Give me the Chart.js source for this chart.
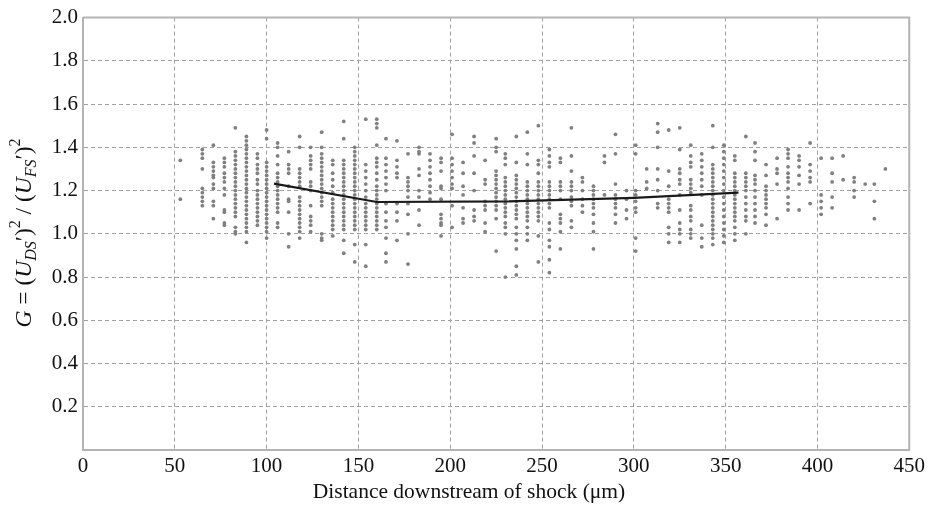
<!DOCTYPE html>
<html>
<head>
<meta charset="utf-8">
<script src="https://cdn.jsdelivr.net/npm/chart.js@4.4.1/dist/chart.umd.min.js"></script>
<style>
  html, body { margin: 0; padding: 0; background: #fff; }
</style>
</head>
<body>
<canvas id="c" width="929" height="507"></canvas>
<script>
const xTicks = [0, 50, 100, 150, 200, 250, 300, 350, 400, 450];
const yTicks = [0, 0.2, 0.4, 0.6, 0.8, 1.0, 1.2, 1.4, 1.6, 1.8, 2.0];
const xTitle = "Distance downstream of shock (\u03bcm)";

// measured columns of G values (x in µm)
const columnX = [53, 65, 71, 77, 83, 89, 95, 100, 106, 112, 118, 124, 130, 136, 142, 148, 154, 160,
  165, 171, 177, 183, 189, 195, 201, 207, 213, 219, 225, 230, 236, 242, 248, 254, 260, 266, 272,
  278, 284, 290, 296, 301, 307, 313, 319, 325, 331, 337, 343, 349, 355, 361, 366, 372, 378, 384,
  390, 396, 402, 408, 414, 420, 426, 431, 437];
const columnY = [
  [1.34, 1.16],
  [1.39, 1.37, 1.35, 1.30, 1.21, 1.19, 1.17, 1.15, 1.13],
  [1.41, 1.33, 1.31, 1.29, 1.27, 1.26, 1.23, 1.21, 1.15, 1.13, 1.07],
  [1.35, 1.33, 1.31, 1.28, 1.26, 1.24, 1.21, 1.18, 1.11, 1.10, 1.05, 1.04],
  [1.49, 1.38, 1.36, 1.34, 1.32, 1.30, 1.28, 1.26, 1.24, 1.22, 1.20, 1.18, 1.16, 1.14, 1.12, 1.10, 1.08, 1.03, 1.01, 1.00],
  [1.45, 1.43, 1.41, 1.39, 1.37, 1.35, 1.33, 1.31, 1.29, 1.27, 1.25, 1.23, 1.21, 1.19, 1.17, 1.15, 1.13, 1.11, 1.09, 1.07, 1.05, 1.03, 1.01, 0.96],
  [1.37, 1.35, 1.32, 1.30, 1.28, 1.25, 1.23, 1.20, 1.18, 1.16, 1.14, 1.12, 1.10, 1.08, 1.06, 1.04],
  [1.48, 1.44, 1.33, 1.31, 1.29, 1.27, 1.25, 1.23, 1.21, 1.19, 1.17, 1.15, 1.13, 1.11, 1.09, 1.07, 1.05, 1.03, 1.01, 0.98],
  [1.42, 1.40, 1.36, 1.32, 1.28, 1.26, 1.24, 1.22, 1.20, 1.18, 1.16, 1.14, 1.12, 1.10, 1.05, 1.03],
  [1.38, 1.32, 1.30, 1.28, 1.22, 1.16, 1.15, 1.10, 1.00, 0.94],
  [1.45, 1.40, 1.30, 1.28, 1.26, 1.24, 1.22, 1.17, 1.15, 1.13, 1.11, 1.09, 1.07, 1.05, 1.03, 1.01, 0.98],
  [1.40, 1.36, 1.34, 1.32, 1.30, 1.24, 1.22, 1.20, 1.13, 1.08, 1.06, 1.04, 1.01],
  [1.47, 1.40, 1.37, 1.35, 1.33, 1.31, 1.29, 1.27, 1.25, 1.23, 1.21, 1.19, 1.17, 1.15, 1.13, 1.00, 0.98, 0.97],
  [1.34, 1.32, 1.28, 1.25, 1.22, 1.19, 1.16, 1.14, 1.12, 1.10, 1.08, 1.06, 1.04, 1.02, 0.99],
  [1.52, 1.44, 1.34, 1.32, 1.30, 1.28, 1.26, 1.24, 1.22, 1.20, 1.18, 1.16, 1.14, 1.12, 1.10, 1.08, 1.06, 1.04, 1.02, 0.97, 0.91],
  [1.40, 1.38, 1.36, 1.34, 1.32, 1.30, 1.28, 1.26, 1.24, 1.22, 1.20, 1.18, 1.16, 1.14, 1.12, 1.10, 1.08, 1.06, 1.04, 1.02, 0.95, 0.87],
  [1.53, 1.32, 1.29, 1.26, 1.23, 1.20, 1.17, 1.14, 1.12, 1.10, 1.08, 1.06, 1.04, 1.02, 0.95, 0.85],
  [1.53, 1.51, 1.49, 1.41, 1.35, 1.33, 1.31, 1.28, 1.25, 1.22, 1.20, 1.18, 1.16, 1.14, 1.12, 1.10, 1.08, 1.06, 1.04, 1.02],
  [1.44, 1.35, 1.32, 1.29, 1.26, 1.23, 1.20, 1.14, 1.10, 1.06, 1.03, 0.98, 0.91, 0.87],
  [1.43, 1.34, 1.31, 1.28, 1.26, 1.14, 1.10, 1.06, 0.97],
  [1.37, 1.26, 1.24, 1.22, 1.20, 1.17, 1.14, 1.09, 1.00, 0.86],
  [1.40, 1.38, 1.37, 1.30, 1.27, 1.20, 1.17, 1.11, 1.04],
  [1.37, 1.34, 1.31, 1.28, 1.25, 1.22, 1.19, 1.16],
  [1.35, 1.33, 1.29, 1.22, 1.21, 1.16, 1.09, 1.07, 1.05, 1.04, 0.99],
  [1.46, 1.35, 1.32, 1.29, 1.26, 1.23, 1.21, 1.13, 1.03],
  [1.33, 1.28, 1.22, 1.18, 1.12, 1.07, 1.05],
  [1.45, 1.42, 1.36, 1.28, 1.20, 1.11, 1.08, 1.06],
  [1.34, 1.25, 1.23, 1.15, 1.13, 1.11, 1.05, 1.01],
  [1.44, 1.40, 1.38, 1.29, 1.27, 1.25, 1.23, 1.21, 1.19, 1.17, 1.15, 1.13, 1.11, 1.07, 0.92],
  [1.37, 1.35, 1.32, 1.26, 1.24, 1.22, 1.20, 1.18, 1.16, 1.14, 1.12, 1.10, 1.08, 1.05, 1.03, 1.00, 0.80],
  [1.45, 1.33, 1.27, 1.25, 1.23, 1.21, 1.19, 1.17, 1.15, 1.13, 1.11, 1.09, 1.07, 1.03, 1.00, 0.97, 0.93, 0.85, 0.81],
  [1.47, 1.37, 1.32, 1.24, 1.22, 1.20, 1.18, 1.16, 1.14, 1.12, 1.10, 1.08, 1.06, 1.03, 1.00, 0.97],
  [1.50, 1.34, 1.32, 1.28, 1.24, 1.22, 1.20, 1.18, 1.16, 1.14, 1.12, 1.10, 1.08, 1.06, 0.99, 0.87],
  [1.39, 1.36, 1.33, 1.31, 1.24, 1.22, 1.20, 1.18, 1.16, 1.14, 1.12, 1.05, 1.02, 0.97, 0.94, 0.88, 0.82],
  [1.35, 1.33, 1.24, 1.22, 1.20, 1.16, 1.09, 1.07, 1.05, 1.01, 0.93],
  [1.49, 1.36, 1.29, 1.24, 1.22, 1.20, 1.17, 1.15, 1.13, 1.06, 1.03],
  [1.26, 1.24, 1.20, 1.16, 1.13, 1.10],
  [1.22, 1.20, 1.18, 1.16, 1.14, 1.12, 1.09, 1.05, 1.01, 0.93],
  [1.36, 1.33, 1.18],
  [1.46, 1.37, 1.23, 1.18, 1.16, 1.14, 1.12, 1.09, 1.05],
  [1.20, 1.16, 1.11, 1.07],
  [1.41, 1.37, 1.20, 1.18, 1.15, 1.12, 1.10, 0.98, 0.92],
  [1.30, 1.24, 1.21],
  [1.51, 1.47, 1.40, 1.30, 1.25, 1.20, 1.14, 1.12],
  [1.48, 1.29, 1.22, 1.16, 1.14, 1.12, 1.10, 1.03, 1.00, 0.96],
  [1.49, 1.39, 1.30, 1.28, 1.25, 1.23, 1.18, 1.11, 1.05, 1.02, 1.00, 0.96],
  [1.41, 1.36, 1.33, 1.31, 1.25, 1.23, 1.21, 1.19, 1.13, 1.11, 1.08, 1.06, 1.02, 1.00, 0.98],
  [1.37, 1.34, 1.31, 1.28, 1.25, 1.22, 1.18, 1.04, 0.98, 0.94],
  [1.50, 1.40, 1.32, 1.30, 1.28, 1.26, 1.24, 1.22, 1.20, 1.18, 1.16, 1.14, 1.12, 1.10, 1.08, 1.06, 1.04, 1.02, 1.00, 0.98, 0.95],
  [1.41, 1.38, 1.35, 1.32, 1.29, 1.26, 1.23, 1.20, 1.17, 1.14, 1.11, 1.08, 1.05, 1.02, 0.99, 0.96],
  [1.36, 1.34, 1.28, 1.26, 1.24, 1.22, 1.20, 1.18, 1.16, 1.14, 1.12, 1.10, 1.08, 1.06, 1.03, 1.00, 0.97],
  [1.45, 1.28, 1.26, 1.24, 1.22, 1.20, 1.17, 1.14, 1.11, 1.08, 1.06, 1.00],
  [1.42, 1.38, 1.34, 1.27, 1.25, 1.23, 1.20, 1.17, 1.14, 1.11, 1.08, 1.05],
  [1.32, 1.27, 1.22, 1.20, 1.18, 1.16, 1.14, 1.12, 1.09, 1.04],
  [1.35, 1.30, 1.28, 1.23, 1.07],
  [1.39, 1.37, 1.35, 1.31, 1.28, 1.26, 1.24, 1.21, 1.17, 1.14, 1.11],
  [1.36, 1.34, 1.31, 1.27, 1.23, 1.11],
  [1.42, 1.32, 1.29, 1.26, 1.24, 1.14],
  [1.35, 1.18, 1.15, 1.12, 1.09],
  [1.35, 1.28, 1.24, 1.17, 1.12],
  [1.36, 1.25],
  [1.26, 1.24, 1.20, 1.17],
  [1.23],
  [1.23, 1.15, 1.07],
  [1.30]
];

// fitted trend line
const fitX = [104, 160, 232, 300, 357];
const fitY = [1.232, 1.147, 1.150, 1.166, 1.190];

const points = [];
columnX.forEach((x, i) => {
  columnY[i].forEach((y) => points.push({ x: x, y: y }));
});
const fitLine = fitX.map((x, i) => ({ x: x, y: fitY[i] }));

const serif = '"Liberation Serif", "Times New Roman", serif';

// axis titles: y one needs sub/superscripts, so both are drawn here
const titlesPlugin = {
  id: "titles",
  afterDraw(chart) {
    const ctx = chart.ctx;
    ctx.save();
    ctx.fillStyle = "#111";
    ctx.font = "21.5px " + serif;
    ctx.textAlign = "center";
    ctx.textBaseline = "middle";
    ctx.fillText(xTitle, 469, 492);
    ctx.restore();

    const parts = [
      { t: "G", it: true },
      { t: " = (", it: false },
      { t: "U", it: true },
      { t: "DS", it: true, k: "sub" },
      { t: "\u2032)", it: false },
      { t: "2", it: false, k: "sup" },
      { t: " / (", it: false },
      { t: "U", it: true },
      { t: "FS", it: true, k: "sub" },
      { t: "\u2032)", it: false },
      { t: "2", it: false, k: "sup" },
    ];
    const fontOf = (p) => (p.it ? "italic " : "") + (p.k ? "16px " : "23.5px ") + serif;
    let total = 0;
    parts.forEach((p) => {
      ctx.font = fontOf(p);
      p.w = ctx.measureText(p.t).width;
      total += p.w;
    });
    ctx.save();
    ctx.translate(31, 233);
    ctx.rotate(-Math.PI / 2);
    ctx.fillStyle = "#111";
    ctx.textAlign = "left";
    ctx.textBaseline = "alphabetic";
    let x = -total / 2;
    parts.forEach((p) => {
      ctx.font = fontOf(p);
      const dy = p.k === "sub" ? 5 : p.k === "sup" ? -11 : 0;
      ctx.fillText(p.t, x, dy);
      x += p.w;
    });
    ctx.restore();
  },
};

const framePlugin = {
  id: "frame",
  afterDatasetsDraw(chart) {
    const { ctx, chartArea } = chart;
    ctx.save();
    ctx.strokeStyle = "#b4b4b4";
    ctx.lineWidth = 2;
    ctx.beginPath();
    ctx.moveTo(chartArea.left, chartArea.top);
    ctx.lineTo(chartArea.right, chartArea.top);
    ctx.lineTo(chartArea.right, chartArea.bottom);
    ctx.stroke();
    ctx.restore();
  },
};

new Chart(document.getElementById("c"), {
  type: "scatter",
  data: {
    datasets: [
      {
        type: "line",
        data: fitLine,
        borderColor: "#1a1a1a",
        borderWidth: 2.2,
        pointRadius: 0,
        tension: 0,
        order: 0,
      },
      {
        data: points,
        backgroundColor: "#808080",
        borderWidth: 0,
        pointRadius: 1.9,
        order: 1,
      },
    ],
  },
  options: {
    responsive: false,
    animation: false,
    layout: { padding: { top: 16, right: 18, left: 0, bottom: 0 } },
    plugins: { legend: { display: false }, tooltip: { enabled: false } },
    scales: {
      x: {
        type: "linear",
        min: 0,
        max: 450,
        afterBuildTicks: (scale) => {
          scale.ticks = xTicks.map((v) => ({ value: v }));
        },
        afterFit: (scale) => {
          scale.height = 57;
        },
        ticks: {
          font: { family: serif, size: 21 },
          color: "#111",
          padding: 4,
          maxRotation: 0,
          autoSkip: false,
          callback: (v) => String(v),
        },
        grid: { color: "#a0a0a0", lineWidth: 1, drawTicks: false },
        border: { color: "#b4b4b4", width: 2, dash: [4, 3] },
      },
      y: {
        min: 0,
        max: 2,
        afterBuildTicks: (scale) => {
          scale.ticks = yTicks.map((v) => ({ value: v }));
        },
        afterFit: (scale) => {
          scale.width = 83;
        },
        ticks: {
          font: { family: serif, size: 21 },
          color: "#111",
          padding: 5,
          callback: (v) => (v === 0 ? "" : v.toFixed(1)),
        },
        grid: { color: "#a0a0a0", lineWidth: 1, drawTicks: false },
        border: { color: "#b4b4b4", width: 2, dash: [4, 3] },
      },
    },
  },
  plugins: [titlesPlugin, framePlugin],
});
</script>
</body>
</html>
